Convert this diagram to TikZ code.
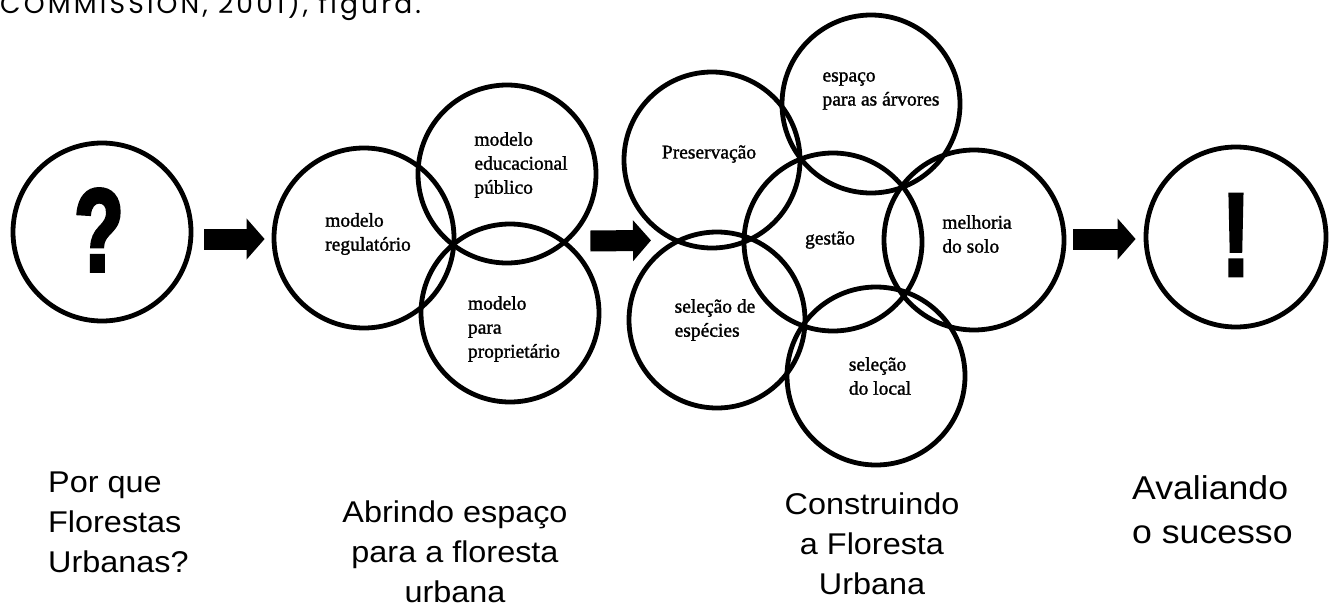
\documentclass[tikz,border=0pt]{standalone}
\usepackage{fontspec}
\setmainfont{Liberation Serif}[FakeBold=1.2]
\newfontfamily\cellfont{Liberation Serif}[FakeBold=1.4]
\newfontfamily\labelfont{Liberation Sans}[FakeStretch=1.08]
\newfontfamily\glyphfont{Liberation Sans Bold}[FakeStretch=0.68, FakeBold=3]
\newfontfamily\topfont{Poppins}[LetterSpace=12]
\usetikzlibrary{arrows.meta}
\tikzset{
  ring/.style={circle, draw, line width=4.8pt, inner sep=0pt, minimum size=#1},
  celltext/.style={font=\cellfont\fontsize{19.5}{24}\selectfont, align=left, inner sep=0pt},
  glyph/.style={font=\glyphfont\fontsize{118}{118}\selectfont, inner sep=0pt},
  steplabel/.style={font=\labelfont\fontsize{30}{40}\selectfont, inner sep=0pt},
  blockarrow/.style={line width=21pt, -{Triangle[length=18pt 0 0, width=40pt 0 0]}},
}
\begin{document}
\begin{tikzpicture}[x=1pt,y=-1pt]
\useasboundingbox (0,0) rectangle (1338,608);
% source line (cut at the top edge, as in the reference)
\node[anchor=base west, inner sep=0pt, font=\topfont\fontsize{26.5}{30}\selectfont] (src) at (0,13) {COMMISSION, 2001), figura.};
% circles
\node[ring=178] (q) at (102,232) {};
\node[ring=180] (reg) at (364,238) {};
\node[ring=178] (edu) at (507,174) {};
\node[ring=178] (prop) at (510,313) {};
\node[ring=176] (pres) at (712,160) {};
\node[ring=178] (esp) at (871,104) {};
\node[ring=178] (gest) at (833,242) {};
\node[ring=180] (melh) at (974,240) {};
\node[ring=176] (spec) at (717,320) {};
\node[ring=178] (loc) at (876,376) {};
\node[ring=180] (ex) at (1236,237) {};
% glyphs
\node[glyph] (qm) at (99,230) {?};
\node[glyph] (em) at (1236,235) {!};
% circle texts
\node[celltext] (treg) at (368,234) {modelo\\regulatório};
\node[celltext] (tedu) at (521,165) {modelo\\educacional\\público};
\node[celltext] (tprop) at (514,329) {modelo\\para\\proprietário};
\node[celltext] (tpres) at (709,154) {Preservação};
\node[celltext] (tesp) at (881,91) {espaço\\para as árvores};
\node[celltext] (tgest) at (830,240) {gestão};
\node[celltext] (tmelh) at (977,234) {melhoria\\do solo};
\node[celltext] (tspec) at (715,320) {seleção de\\espécies};
\node[celltext] (tloc) at (880,376) {seleção\\do local};
% block arrows
\draw[blockarrow] ([shift={(11,7)}]q.east) -- ([shift={(-7,1)}]reg.west);
\draw[blockarrow] ([shift={(-8,67)}]edu.east) -- ([shift={(-61,-10)}]pres.south);
\draw[blockarrow] ([shift={(7,-1)}]melh.east) -- ([shift={(-8,2)}]ex.west);
% step labels
\node[steplabel, anchor=north west, align=left] (l1) at (48,472) {Por que\\Florestas\\Urbanas?};
\node[steplabel, anchor=north, align=center] (l2) at (455,501) {Abrindo espaço\\para a floresta\\urbana};
\node[steplabel, anchor=north, align=center] (l3) at (872,493) {Construindo\\a Floresta\\Urbana};
\node[steplabel, anchor=north west, align=left, font=\labelfont\fontsize{33}{44}\selectfont] (l4) at (1132,475) {Avaliando\\o sucesso};
\end{tikzpicture}
\end{document}
